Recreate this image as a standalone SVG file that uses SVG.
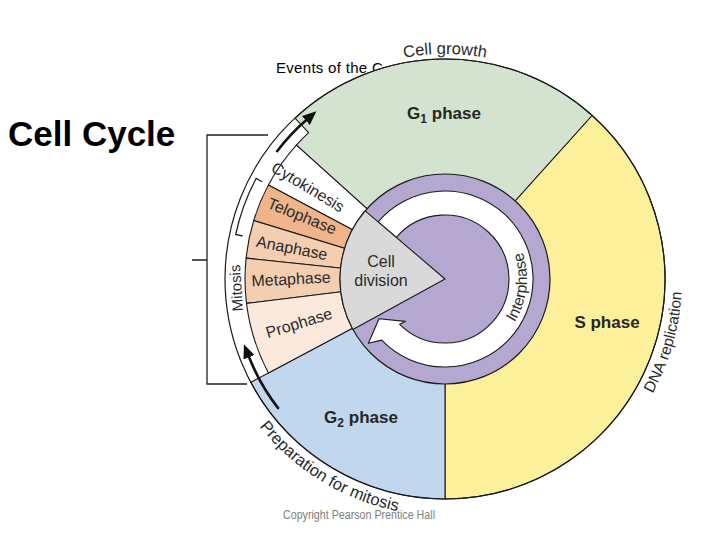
<svg xmlns="http://www.w3.org/2000/svg" width="720" height="540" viewBox="0 0 720 540">
<style>
.f{font-family:"Liberation Sans",Arial,Helvetica,sans-serif;fill:#2b2b2b}
.ph{font-size:16px}
.big{font-size:17px;font-weight:bold;fill:#262626}
.sec{stroke:#1a1a1a;stroke-width:1.1;stroke-linejoin:round}
.ln{fill:none;stroke:#222;stroke-width:1.3}
.arr{fill:none;stroke:#111;stroke-width:2.6}
</style>
<defs>
<marker id="ah" viewBox="0 0 14 12" refX="1" refY="6" markerWidth="14" markerHeight="12" markerUnits="userSpaceOnUse" orient="auto">
<path d="M0,0 L14,6 L0,12 Z" fill="#111"/>
</marker>
<path id="pGrowth" d="M300.4,106.6 A225,225 0 0 1 589.6,106.6"/>
<path id="pDNA" d="M612.6,446.6 A237,237 0 0 0 673.9,217.7"/>
<path id="pPrep" d="M211.6,320.2 A237,237 0 0 0 506.3,507.9"/>
<path id="pInter" d="M507.8,331.7 A82,82 0 0 0 507.8,226.3"/>
</defs>
<rect width="720" height="540" fill="#fff"/>
<text x="276" y="73" class="f" style="font-size:15px;fill:#000;letter-spacing:0.3px">Events of the C</text>
<text x="8" y="146" class="f" style="font-size:35px;font-weight:bold;fill:#000">Cell Cycle</text>

<g id="g1-phase">
<path class="sec" d="M445,279 L592.2,115.5 A220,220 0 0 0 295,118.1 L308.6,132.7 A200,200 0 0 0 296.4,145.2 Z" fill="#d3e3d0"/>
<text x="444" y="119" class="f big" text-anchor="middle">G<tspan font-size="12" dy="4">1</tspan><tspan dy="-4"> phase</tspan></text>
<text class="f" style="font-size:16.5px"><textPath href="#pGrowth" startOffset="50%" text-anchor="middle">Cell growth</textPath></text>
</g>
<g id="s-phase">
<path class="sec" d="M445,279 L445,499 A220,220 0 0 0 592.2,115.5 Z" fill="#fdf09b"/>
<text x="607" y="328" class="f big" text-anchor="middle">S phase</text>
<text class="f" style="font-size:15.5px"><textPath href="#pDNA" startOffset="48.3%" text-anchor="middle">DNA replication</textPath></text>
</g>
<g id="g2-phase">
<path class="sec" d="M445,279 L250.8,382.3 A220,220 0 0 0 445,499 Z" fill="#c1d7ee"/>
<text x="361" y="423" class="f big" text-anchor="middle">G<tspan font-size="12" dy="4">2</tspan><tspan dy="-4"> phase</tspan></text>
<text class="f" style="font-size:16.5px"><textPath href="#pPrep" startOffset="51%" text-anchor="middle">Preparation for mitosis</textPath></text>
</g>
<g id="cytokinesis">
<path class="sec" d="M445,279 L296.4,145.2 A200,200 0 0 0 268.4,185.1 Z" fill="#fff"/>
<text class="f ph" transform="translate(308,187) rotate(31)" y="5.5" text-anchor="middle">Cytokinesis</text>
</g>
<g id="telophase">
<path class="sec" d="M445,279 L268.4,185.1 A200,200 0 0 0 253.7,220.5 Z" fill="#efb48a"/>
<text class="f ph" transform="translate(302,216) rotate(22)" y="5.5" text-anchor="middle">Telophase</text>
</g>
<g id="anaphase">
<path class="sec" d="M445,279 L253.7,220.5 A200,200 0 0 0 246.1,258.1 Z" fill="#f4ceb1"/>
<text class="f ph" transform="translate(292,248) rotate(11)" y="5.5" text-anchor="middle">Anaphase</text>
</g>
<g id="metaphase">
<path class="sec" d="M445,279 L246.1,258.1 A200,200 0 0 0 246.5,303.4 Z" fill="#f4ceb1"/>
<text class="f ph" transform="translate(291,279) rotate(-3)" y="5.5" text-anchor="middle">Metaphase</text>
</g>
<g id="prophase">
<path class="sec" d="M445,279 L246.5,303.4 A200,200 0 0 0 268.4,372.9 Z" fill="#fae9dc"/>
<text class="f ph" transform="translate(299,323) rotate(-17)" y="5.5" text-anchor="middle">Prophase</text>
</g>
<g id="outer-rim">
<circle cx="445" cy="279" r="220" fill="none" stroke="#1a1a1a" stroke-width="1.2"/>
</g>
<g id="mitosis">
<path class="ln" d="M262.2,181.8 L256.1,178.5 A214,214 0 0 0 235.7,234.5 L242.5,236"/>
<text class="f" style="font-size:15px" transform="translate(236,288) rotate(-94)" y="5.5" text-anchor="middle">Mitosis</text>
</g>
<g id="interphase">
<circle cx="445" cy="279" r="105" fill="#b4a8d1" stroke="#1a1a1a" stroke-width="1.2"/>
<path class="sec" fill="#fff" d="M378.1,221.9 A88,88 0 1 1 381.7,340.1 L368.4,343.3 L379,318.7 L405.4,321.4 L399.7,324.3 A64,64 0 1 0 396.3,237.4 Z"/>
<text class="f" style="font-size:15.5px"><textPath href="#pInter" startOffset="42%" text-anchor="middle">Interphase</textPath></text>
</g>
<g id="cell-division">
<path class="sec" d="M445,279 L365.2,210.8 A105,105 0 0 0 352.9,329.4 Z" fill="#d9d9d9"/>
<text x="381" y="267" class="f ph" text-anchor="middle">Cell</text>
<text x="381" y="286" class="f ph" text-anchor="middle">division</text>
</g>
<g id="cell-cycle-bracket">
<path class="ln" d="M268,135 H207 V384 H247 M192,260 H207"/>
</g>
<g id="connectors">
<path class="arr" d="M276.5,152 A211,211 0 0 1 306.6,119.8" marker-end="url(#ah)"/>
<path class="arr" d="M278.7,408.9 A211,211 0 0 1 248.7,356.3" marker-end="url(#ah)"/>
</g>
<text x="283" y="519" class="f" style="font-size:12px;fill:#808080" textLength="152" lengthAdjust="spacingAndGlyphs">Copyright Pearson Prentice Hall</text>
</svg>
